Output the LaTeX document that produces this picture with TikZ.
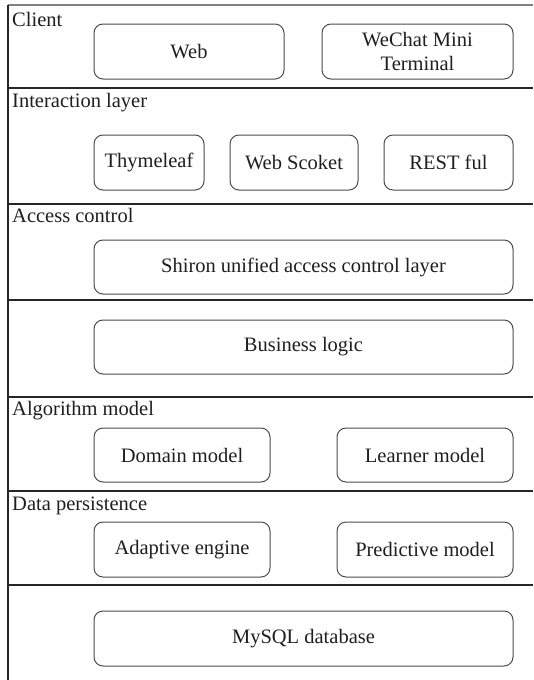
\documentclass[tikz,border=0pt]{standalone}
\usepackage{fontspec}
\setmainfont{Liberation Serif}
\begin{document}
\begin{tikzpicture}[x=1pt,y=-1pt,
  txt/.style={font=\fontsize{20.5}{24}\selectfont, text=black!88},
  box/.style={txt, draw=black!70, line width=1pt, rounded corners=9pt, inner sep=0pt, align=center},
  lbl/.style={txt, anchor=base west, inner sep=0pt},
  divider/.style={draw=black!85, line width=1.2pt}]
\useasboundingbox (0,0) rectangle (533,680);
% frame
\coordinate (tl) at (8,5);
\coordinate (tr) at (533,5);
\coordinate (bl) at (8,680);
\draw[black!50, line width=2pt] (tl) -- (tr);
\draw[divider] (tl) -- (bl);
% dividers
\foreach \y/\n in {88/d1,204/d2,300/d3,397/d4,491/d5,585/d6}{
  \coordinate (\n l) at (8,\y);
  \coordinate (\n r) at (533,\y);
  \draw[divider] (\n l) -- (\n r);
}
% section labels
\node[lbl] (lclient) at (12,26) {Client};
\node[lbl] (linter) at (12,107) {Interaction layer};
\node[lbl] (laccess) at (12,222) {Access control};
\node[lbl] (lalgo) at (12,415) {Algorithm model};
\node[lbl] (ldata) at (12,510) {Data persistence};
% boxes
\node[box, minimum width=190pt, minimum height=55pt] (web) at (189,51.5) {Web};
\node[box, minimum width=191pt, minimum height=55pt] (wechat) at (417.5,51.5) {WeChat Mini\\Terminal};
\node[box, minimum width=110pt, minimum height=55pt] (thyme) at (149,162.5) {Thymeleaf};
\node[box, minimum width=128pt, minimum height=55pt] (socket) at (294,162.5) {Web Scoket};
\node[box, minimum width=129pt, minimum height=55pt] (rest) at (448.5,162.5) {REST ful};
\node[box, minimum width=419pt, minimum height=54pt] (shiro) at (303.5,267) {Shiron unified access control layer};
\node[box, minimum width=419pt, minimum height=54pt] (biz) at (303.5,347) {Business logic};
\node[box, minimum width=176pt, minimum height=54pt] (domain) at (182,455) {Domain model};
\node[box, minimum width=176pt, minimum height=54pt] (learner) at (425,455) {Learner model};
\node[box, minimum width=176pt, minimum height=55pt] (adaptive) at (182,549.5) {Adaptive engine};
\node[box, minimum width=176pt, minimum height=55pt] (predict) at (425,549.5) {Predictive model};
\node[box, minimum width=419pt, minimum height=55pt] (mysql) at (303.5,638.5) {MySQL database};
\end{tikzpicture}
\end{document}
